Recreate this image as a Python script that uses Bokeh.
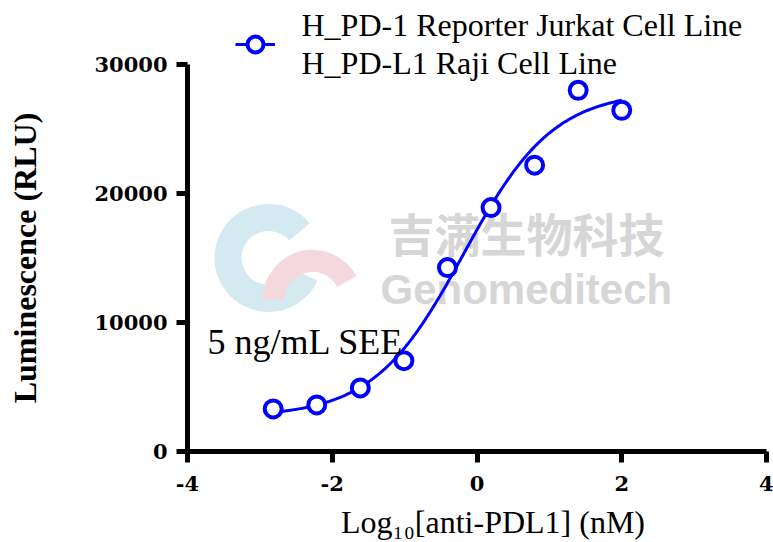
import numpy as np
from bokeh.plotting import figure
from bokeh.models import (Label, Legend, LegendItem, FixedTicker, BasicTickFormatter, Range1d)
from bokeh.embed import file_html
from bokeh.resources import INLINE

# ---- data ----
log_conc = [-2.816, -2.214, -1.612, -1.010, -0.408, 0.194, 0.796, 1.398, 2.000]
rlu = [3300, 3610, 4930, 7040, 14250, 18900, 22190, 27990, 26440]
x_ticks = [-4, -2, 0, 2, 4]
y_ticks = [0, 10000, 20000, 30000]
series_line1 = "H_PD-1 Reporter Jurkat Cell Line"
series_line2 = "H_PD-L1 Raji Cell Line"
x_title = "Log\u2081\u2080[anti-PDL1] (nM)"
y_title = "Luminescence (RLU)"
annotation = "5 ng/mL SEE"
wm_cn = "吉满生物科技"
wm_en = "Genomeditech"
BLUE = "#0000FF"

# ---- 4PL fit (Levenberg-Marquardt) of the points, as the curve in the reference ----
xd = np.array(log_conc, float)
yd = np.array(rlu, float)

def f4(p, x):
    B, T, c, h = p
    return B + (T - B) / (1.0 + 10.0 ** ((c - x) * h))

p = np.array([yd.min(), yd.max(), float(np.median(xd)), 1.0])
lam = 1e-3
def sse(p):
    r = yd - f4(p, xd)
    return float(r @ r)
cur = sse(p)
for _ in range(2000):
    r = yd - f4(p, xd)
    J = np.zeros((len(xd), 4))
    for i in range(4):
        e = 1e-6 * max(1.0, abs(p[i]))
        dp = p.copy(); dp[i] += e
        J[:, i] = (f4(dp, xd) - f4(p, xd)) / e
    A = J.T @ J
    g = J.T @ r
    try:
        step = np.linalg.solve(A + lam * np.diag(np.diag(A)), g)
    except np.linalg.LinAlgError:
        lam *= 10
        continue
    pn = p + step
    new = sse(pn)
    if new < cur:
        p, cur = pn, new
        lam = max(lam / 3, 1e-12)
    else:
        lam *= 3
    if lam > 1e12:
        break

xc = np.linspace(xd.min(), xd.max(), 300)
yc = f4(p, xc)

# ---- figure ----
W, H = 773, 542
FL, FR, FT, FB = 187, 766, 64, 452      # where x=-4..4 and y=0..30000 sit
y_top = 30000 * FB / (FB - FT)           # frame extends up to the canvas top
fig = figure(width=W, height=H, output_backend="svg", toolbar_location=None,
             x_range=Range1d(-4, 4), y_range=Range1d(0, y_top),
             min_border_left=FL, min_border_right=W - FR, min_border_top=0, min_border_bottom=H - FB)
fig.outline_line_color = None
fig.xgrid.visible = False
fig.ygrid.visible = False
fig.background_fill_color = "white"
fig.border_fill_color = "white"

def dx(px):
    return (px - FL) / (FR - FL) * 8 - 4
def dy(py):
    return (FB - py) / (FB - FT) * 30000

# watermark logo & text (underlay)
fig.annular_wedge(x=[dx(268)], y=[dy(258)], inner_radius=27, outer_radius=54,
                  inner_radius_units="screen", outer_radius_units="screen",
                  start_angle=np.deg2rad(40), end_angle=np.deg2rad(-25),
                  fill_color="#d4e9f0", line_color=None, level="underlay")
fig.annular_wedge(x=[dx(312)], y=[dy(300)], inner_radius=28, outer_radius=50,
                  inner_radius_units="screen", outer_radius_units="screen",
                  start_angle=np.deg2rad(28), end_angle=np.deg2rad(180),
                  fill_color="#f3d9de", line_color=None, level="underlay")

fig.add_layout(Label(x=dx(388), y=dy(232), text=wm_cn,
                     text_font="Noto Sans CJK SC", text_font_style="bold", text_font_size="46px",
                     text_color="#d6d6d6", text_baseline="middle", text_align="left", level="underlay"))
fig.add_layout(Label(x=dx(380), y=dy(290), text=wm_en,
                     text_font="Liberation Sans", text_font_style="bold", text_font_size="42px",
                     text_color="#d6d6d6", text_baseline="alphabetic", text_align="left", level="underlay"))

curve = fig.line(xc, yc, line_color=BLUE, line_width=3)
pts = fig.scatter(log_conc, rlu, marker="circle", size=17, line_color=BLUE, line_width=4,
                  fill_color="white")

# axes
for ax in (fig.xaxis[0], fig.yaxis[0]):
    ax.axis_line_width = 5
    ax.axis_line_color = "black"
    ax.major_tick_line_width = 5
    ax.major_tick_line_color = "black"
    ax.major_tick_out = 11
    ax.major_tick_in = 0
    ax.minor_tick_line_color = None
    ax.major_label_text_font = "DejaVu Serif"
    ax.major_label_text_font_style = "bold"
    ax.major_label_text_font_size = "21px"
    ax.major_label_text_color = "black"
fig.xaxis.ticker = FixedTicker(ticks=x_ticks)
fig.xaxis.major_label_overrides = {t: str(t) for t in x_ticks}
fig.yaxis.ticker = FixedTicker(ticks=y_ticks)
fig.yaxis.bounds = (y_ticks[0], y_ticks[-1])
fig.yaxis.formatter = BasicTickFormatter(use_scientific=False)
fig.xaxis.major_label_standoff = 13
fig.yaxis.major_label_standoff = 9

# y title: trailing no-break spaces move it down to the centre of the 0..30000 span
fig.yaxis.axis_label = y_title + "\u00a0" * 8
fig.yaxis.axis_label_text_font = "Liberation Serif"
fig.yaxis.axis_label_text_font_style = "bold"
fig.yaxis.axis_label_text_font_size = "32px"
fig.yaxis.axis_label_standoff = 48
fig.yaxis.axis_label_text_color = "black"

fig.xaxis.axis_label = "\u00a0" * 4 + x_title
fig.xaxis.axis_label_text_font = "Liberation Serif"
fig.xaxis.axis_label_text_font_style = "normal"
fig.xaxis.axis_label_text_font_size = "32px"
fig.xaxis.axis_label_standoff = 10
fig.xaxis.axis_label_text_color = "black"

# annotation
fig.add_layout(Label(x=dx(207), y=dy(342), text=annotation, text_font="Liberation Serif",
                     text_font_size="36px", text_color="black",
                     text_baseline="alphabetic", text_align="left"))

# legend: glyph via Legend, the two text lines as labels
legend = Legend(items=[LegendItem(label=" ", renderers=[curve, pts])],
                location=(235 - FL, FB - 66), orientation="vertical",
                glyph_width=40, glyph_height=42, label_height=42, label_standoff=0,
                padding=0, margin=0, border_line_color=None, background_fill_alpha=0,
                label_text_font_size="10px")
fig.add_layout(legend)
for txt, base in [(series_line1, 25), (series_line2, 63)]:
    fig.add_layout(Label(x=dx(301), y=dy(base), text=txt, text_font="Liberation Serif",
                         text_font_size="32px", text_color="black",
                         text_baseline="alphabetic", text_align="left"))

open("out.html", "w").write(file_html(fig, INLINE))
